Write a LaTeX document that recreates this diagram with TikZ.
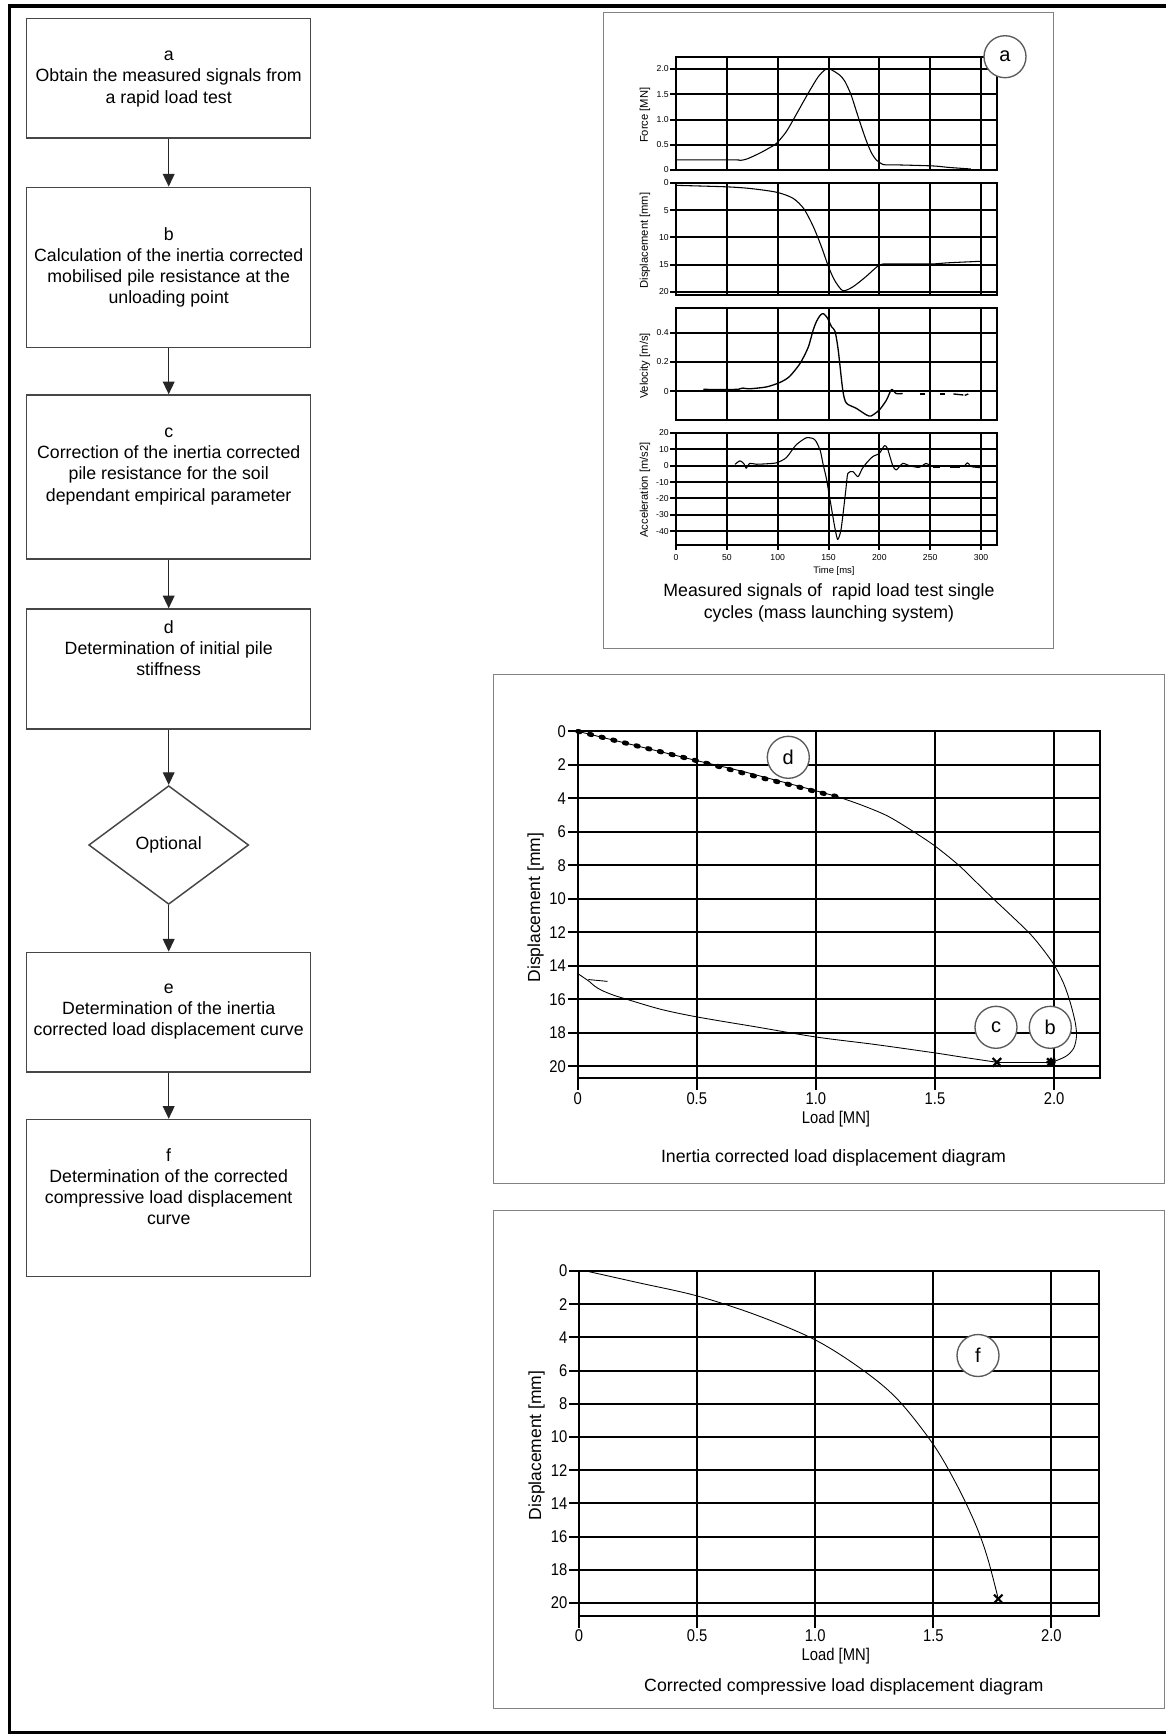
\documentclass[tikz,border=0pt]{standalone}
\usepackage{fontspec}
\setmainfont{Liberation Sans}
\usetikzlibrary{arrows.meta,shapes.geometric}
\definecolor{boxline}{RGB}{70,70,70}
\definecolor{panelline}{RGB}{130,130,130}
\definecolor{circline}{RGB}{90,90,90}
\newcommand{\cnd}[1]{\scalebox{0.87}[1]{#1}}
\begin{document}
\begin{tikzpicture}[x=0.75pt,y=-0.75pt,
  flowbox/.style={draw=boxline, line width=1.1pt, rectangle, minimum width=213pt, inner sep=0pt},
  flowtext/.style={align=center, font=\fontsize{13.3}{15.8}\selectfont, inner sep=0pt},
  decisionbox/.style={draw=boxline, line width=1.1pt, diamond, minimum width=120pt, minimum height=89pt, inner sep=0pt, aspect=1.35, font=\fontsize{13.3}{15.8}\selectfont},
  flowarrow/.style={-{Triangle[width=8.8pt,length=9.5pt]}, line width=1pt, draw=black!85},
  outerframe/.style={line width=2.3pt, black},
  panelframe/.style={draw=panelline, line width=0.9pt},
  grida/.style={line width=1.3pt, black},
  gridb/.style={line width=1.5pt, black},
  curvea/.style={line width=0.8pt, black, line join=round},
  curveb/.style={line width=0.65pt, black, line join=round},
  ticka/.style={font=\fontsize{6.5}{7}\selectfont, inner sep=0pt},
  titlea/.style={font=\fontsize{8.4}{9}\selectfont, inner sep=0pt},
  titlet/.style={font=\fontsize{7.1}{8}\selectfont, inner sep=0pt},
  tickb/.style={font=\fontsize{12.75}{14}\selectfont, inner sep=0pt},
  titleb/.style={font=\fontsize{13.1}{15}\selectfont, inner sep=0pt},
  capt/.style={align=center, font=\fontsize{13.3}{16.7}\selectfont, inner sep=0pt},
  circlab/.style={circle, draw=circline, fill=white, line width=1pt, minimum size=31.5pt, inner sep=0pt, font=\fontsize{15}{17}\selectfont},
  xmark/.style={line width=1.7pt, black}
]
\useasboundingbox (0,0) rectangle (1166,1736);
\fill[white] (0,0) rectangle (1166,1736);
\begin{scope}
\clip (0,0) rectangle (1166,1736);
\draw[outerframe] (9.5,6) rectangle (1190,1732.5);
\end{scope}

% ---------------- flowchart ----------------
\node[flowbox, minimum height=89.8pt] (boxa) at (168.7,78.2) {};
\node[flowtext] (texta) at (168.7,79) {a\\Obtain the measured signals from\\a rapid load test};
\node[flowbox, minimum height=120pt] (boxb) at (168.7,267.3) {};
\node[flowtext] (textb) at (168.7,267.3) {b\\Calculation of the inertia corrected\\mobilised pile resistance at the\\unloading point};
\node[flowbox, minimum height=123pt] (boxc) at (168.7,477) {};
\node[flowtext] (textc) at (168.7,466.5) {c\\Correction of the inertia corrected\\pile resistance for the soil\\dependant empirical parameter};
\node[flowbox, minimum height=90pt] (boxd) at (168.7,669) {};
\node[flowtext] (textd) at (168.7,648) {d\\Determination of initial pile\\stiffness};
\node[decisionbox] (opt) at (168.7,845) {Optional};
\node[flowbox, minimum height=89.8pt] (boxe) at (168.7,1012.2) {};
\node[flowtext] (texte) at (168.7,1011.5) {e\\Determination of the inertia\\corrected load displacement curve};
\node[flowbox, minimum height=117.9pt] (boxf) at (168.7,1198.1) {};
\node[flowtext] (textf) at (168.7,1186.5) {f\\Determination of the corrected\\compressive load displacement\\curve};

\draw[flowarrow] (boxa) -- (boxb);
\draw[flowarrow] (boxb) -- (boxc);
\draw[flowarrow] (boxc) -- (boxd);
\draw[flowarrow] (boxd) -- (opt);
\draw[flowarrow] (opt) -- (boxe);
\draw[flowarrow] (boxe) -- (boxf);

% ---------------- panel 1: measured signals ----------------
\draw[panelframe] (603.5,12.5) rectangle (1053.5,648.5);

% Force chart
\draw[grida] (676,57) rectangle (997,170);
\foreach \t in {50,100,150,200,250,300} {\draw[grida] ({round(676+1.0167*\t)},57) -- ({round(676+1.0167*\t)},170);}
\foreach \v in {0.5,1,1.5,2} {\draw[grida] (676,{round(170-50.5*\v)}) -- (997,{round(170-50.5*\v)});}
\foreach \v/\l [count=\i] in {0/0,0.5/0.5,1/1.0,1.5/1.5,2/2.0} {
  \draw[grida] (670,{round(170-50.5*\v)}) -- (676,{round(170-50.5*\v)});
  \node[ticka, anchor=east] (fy\i) at (669,{170-50.5*\v}) {\l};}
\node[titlea, rotate=90] (tforce) at (645,115.3) {Force [MN]};

% Displacement chart
\draw[grida] (676,183) rectangle (997,295);
\foreach \t in {50,100,150,200,250,300} {\draw[grida] ({round(676+1.0167*\t)},183) -- ({round(676+1.0167*\t)},295);}
\foreach \d in {5,10,15,20} {\draw[grida] (676,{round(183+5.435*\d)}) -- (997,{round(183+5.435*\d)});}
\foreach \d [count=\i] in {0,5,10,15,20} {
  \draw[grida] (670,{round(183+5.435*\d)}) -- (676,{round(183+5.435*\d)});
  \node[ticka, anchor=east] (dy\i) at (669,{183+5.435*\d}) {\d};}
\node[titlea, rotate=90] (tdisp) at (645,240.5) {Displacement [mm]};

% Velocity chart
\draw[grida] (676,308) rectangle (997,420);
\foreach \t in {50,100,150,200,250,300} {\draw[grida] ({round(676+1.0167*\t)},308) -- ({round(676+1.0167*\t)},420);}
\foreach \v/\l [count=\i] in {0.4/0.4,0.2/0.2,0/0} {
  \draw[grida] (670,{round(391.3-146.5*\v)}) -- (997,{round(391.3-146.5*\v)});
  \node[ticka, anchor=east] (vy\i) at (669,{391.3-146.5*\v}) {\l};}
\node[titlea, rotate=90] (tvel) at (645,366) {Velocity [m/s]};

% Acceleration chart
\draw[grida] (676,433) rectangle (997,545);
\foreach \t in {50,100,150,200,250,300} {\draw[grida] ({round(676+1.0167*\t)},433) -- ({round(676+1.0167*\t)},545);}
\foreach \a [count=\i] in {20,10,0,-10,-20,-30,-40} {
  \draw[grida] (670,{round(465.7-1.64*(\a))}) -- (997,{round(465.7-1.64*(\a))});
  \node[ticka, anchor=east] (ay\i) at (669,{465.7-1.64*(\a)}) {\a};}
\node[titlea, rotate=90] (tacc) at (645,490) {Acceleration [m/s2]};
\foreach \t [count=\i] in {0,50,100,150,200,250,300} {
  \draw[grida] ({round(676+1.0167*\t)},545) -- ({round(676+1.0167*\t)},550);
  \node[ticka] (tx\i) at ({676+1.0167*\t},558) {\t};}
\node[titlet] (ttime) at (834,571) {Time [ms]};

% Force curve
\begin{scope}[shift={(676,170)}, x=0.7625pt, y=37.875pt]
\draw[curvea] plot[smooth, tension=0.45] coordinates {(0,0.2) (58,0.2) (63,0.19) (70,0.22) (82,0.33) (92,0.44) (99,0.53) (108.5,0.76) (118,1.09) (130,1.52) (140,1.85) (147,1.99) (151,2.0) (155,1.96) (161,1.88) (166,1.76) (172,1.5) (177,1.19) (182,0.88) (187,0.59) (192,0.35) (197,0.2) (203.6,0.11) (210,0.1) (220,0.1) (253,0.08) (269,0.05) (290,0.02)};
\end{scope}
% Displacement curve
\begin{scope}[shift={(676,183)}, x=0.7625pt, y=-4.07625pt]
\draw[curvea] plot[smooth, tension=0.45] coordinates {(0,0.43) (49,0.7) (72.5,1.0) (99,1.7) (115,2.8) (125.6,4.7) (135,8.0) (143,11.7) (150,15.4) (156,17.9) (164,19.8) (174,19.1) (187,17.2) (200,15.1) (210,14.9) (253,14.9) (266,14.7) (300,14.4)};
\end{scope}
% Velocity curve
\begin{scope}[shift={(676,391.3)}, x=0.7625pt, y=109.875pt]
\draw[curvea, line width=1pt] plot[smooth, tension=0.45] coordinates {(27,0.013) (59,0.013) (63,0.018) (66,0.022) (72,0.017) (89,0.03) (102,0.06) (111.5,0.1) (122,0.19) (130,0.3) (135,0.42) (138.4,0.48) (142,0.52) (145,0.53) (149,0.5) (153,0.44) (156.4,0.41) (159.6,0.28) (164,0.01) (167.5,-0.08) (177.3,-0.116) (187,-0.16) (192,-0.168) (200,-0.127) (207,-0.06) (212,0.012) (216.5,-0.015) (223,-0.015)};
\draw[curvea, line width=1pt] (240,-0.018) -- (245,-0.018);
\draw[curvea, line width=1pt] (259.7,-0.018) -- (264.6,-0.018);
\draw[curvea, line width=1pt] (272.8,-0.018) -- (282.6,-0.025);
\draw[curvea, line width=1pt] (284,-0.028) -- (287.5,-0.018);
\end{scope}
% Acceleration curve
\begin{scope}[shift={(676,465.7)}, x=0.7625pt, y=1.23pt]
\draw[curvea] plot[smooth, tension=0.4] coordinates {(58,0.8) (63,3) (67,1) (69,-1.6) (72.5,1.4) (79,0.9) (90,1.2) (99,1.8) (108.5,4.9) (118,12.6) (128,17) (135,16.5) (138,14.6) (142,9) (144.5,1.4) (148,-8) (151,-18.9) (156,-37) (159,-45) (162,-40) (164,-31) (167,-15) (169,-4.7) (174,-3.6) (179,-6.7) (183,-2) (187,1.4) (193.4,5.5) (200,7.5) (205,12.2) (208,10.5) (213,0.4) (216.5,-2.6) (223,1.4) (229.5,0) (239,-1) (246,1.4) (250,0)};
\draw[curvea, line width=1pt] (253,-1.1) -- (259.7,-1.1);
\draw[curvea, line width=1pt] (269.5,-1.1) -- (279.3,-1.1);
\draw[curvea] plot[smooth] coordinates {(284,0) (286.5,1.8) (289,0.3)};
\draw[curvea, line width=1pt] (290.8,-0.6) -- (300,-1.2);
\end{scope}

\node[circlab] (cira) at (1005,56.7) {a};
\node[capt] (cap1) at (829,602.8) {Measured signals of \ rapid load test single\\cycles (mass launching system)};

% ---------------- panel 2: inertia corrected ----------------
\draw[panelframe] (493.5,674.5) rectangle (1164.5,1183.5);
\draw[gridb] (578,731) rectangle (1100,1078);
\foreach \L in {0.5,1,1.5,2} {\draw[gridb] ({round(577.7+238.2*\L)},731) -- ({round(577.7+238.2*\L)},1090);}
\draw[gridb] (578,1078) -- (578,1090);
\foreach \d in {2,4,...,20} {\draw[gridb] (568,{round(731.3+16.75*\d)}) -- (1100,{round(731.3+16.75*\d)});}
\draw[gridb] (568,731) -- (578,731);
\foreach \d [count=\i] in {0,2,...,20} {\node[tickb, anchor=east] (py\i) at (566,{731.3+16.75*\d}) {\cnd{\d}};}
\foreach \L/\l [count=\i] in {0/0,0.5/0.5,1/1.0,1.5/1.5,2/2.0} {\node[tickb] (px\i) at ({577.7+238.2*\L},1099) {\cnd{\l}};}
\node[titleb, rotate=90] (pytitle) at (535.7,907.7) {Displacement [mm]};
\node[tickb] (pxtitle) at (836,1119) {\cnd{Load [MN]}};
\node[capt] (cap2) at (833.5,1158) {Inertia corrected load displacement diagram};

\begin{scope}[shift={(577.7,731.3)}, x=178.65pt, y=-12.5625pt]
\draw[curveb] plot[smooth, tension=0.5] coordinates {(0,0) (0.1,0.35) (0.2,0.7) (0.3,1.05) (0.4,1.4) (0.5,1.75) (0.6,2.08) (0.7,2.42) (0.8,2.8) (0.9,3.17) (1.0,3.55) (1.1,3.95) (1.2,4.45) (1.3,5.05) (1.4,5.9) (1.5,6.85) (1.6,8.0) (1.68,9.1) (1.745,10.0) (1.82,11.0) (1.9,12.1) (1.955,13.05) (2.0,13.95) (2.04,15.05) (2.068,16.2) (2.089,17.4) (2.094,18.2) (2.083,18.9) (2.055,19.35) (2.02,19.6) (1.987,19.76)};
\draw[line width=3.6pt, dash pattern=on 1.8pt off 7.2pt, line cap=round] plot[smooth] coordinates {(0,0) (0.2,0.7) (0.5,1.76) (0.75,2.7) (0.9,3.22) (1.0,3.6) (1.12,4.0)};
\draw[curveb] (1.76,19.76) -- (1.987,19.76);
\draw[curveb] plot[smooth, tension=0.5] coordinates {(1.76,19.76) (1.6,19.42) (1.5,19.2) (1.25,18.7) (1.0,18.25) (0.75,17.65) (0.5,17.05) (0.35,16.6) (0.22,16.06) (0.15,15.75) (0.1,15.46) (0.07,15.2) (0.05,14.95) (0.03,14.75) (0,14.46)};
\draw[curveb] (0.045,14.82) -- (0.125,14.93);
\draw[xmark] (1.76,19.76) +(-3.2pt,-3.2pt) -- +(3.2pt,3.2pt) +(-3.2pt,3.2pt) -- +(3.2pt,-3.2pt);
\draw[xmark] (1.987,19.76) +(-3pt,-3pt) -- +(3pt,3pt) +(-3pt,3pt) -- +(3pt,-3pt) +(-3.5pt,0) -- +(3.5pt,0) +(0,-3.5pt) -- +(0,3.5pt);
\end{scope}
\node[circlab] (cird) at (788.3,757.3) {d};
\node[circlab] (circ) at (996,1027.3) {c};
\node[circlab] (cirb) at (1050.3,1027.3) {b};

% ---------------- panel 3: corrected compressive ----------------
\draw[panelframe] (493.5,1210.5) rectangle (1164.5,1708.5);
\draw[gridb] (579,1271) rectangle (1099,1616);
\foreach \L in {0.5,1,1.5,2} {\draw[gridb] ({round(579+236.2*\L)},1271) -- ({round(579+236.2*\L)},1628);}
\draw[gridb] (579,1616) -- (579,1628);
\foreach \d in {2,4,...,20} {\draw[gridb] (569,{round(1271+16.6*\d)}) -- (1099,{round(1271+16.6*\d)});}
\draw[gridb] (569,1271) -- (579,1271);
\foreach \d [count=\i] in {0,2,...,20} {\node[tickb, anchor=east] (qy\i) at (567.5,{1271+16.6*\d}) {\cnd{\d}};}
\foreach \L/\l [count=\i] in {0/0,0.5/0.5,1/1.0,1.5/1.5,2/2.0} {\node[tickb] (qx\i) at ({579+236.2*\L},1636) {\cnd{\l}};}
\node[titleb, rotate=90] (qytitle) at (536.7,1445.3) {Displacement [mm]};
\node[tickb] (qxtitle) at (835.8,1655.7) {\cnd{Load [MN]}};
\node[capt] (cap3) at (843.8,1686.7) {Corrected compressive load displacement diagram};

\begin{scope}[shift={(579,1271)}, x=177.15pt, y=-12.45pt]
\draw[curveb] plot[smooth, tension=0.55] coordinates {(0.03,0) (0.25,0.7) (0.5,1.5) (0.75,2.65) (1.0,4.15) (1.2,5.95) (1.35,7.75) (1.5,10.45) (1.6,12.9) (1.68,15.3) (1.73,17.3) (1.775,19.75)};
\draw[xmark] (1.775,19.75) +(-3.2pt,-3.2pt) -- +(3.2pt,3.2pt) +(-3.2pt,3.2pt) -- +(3.2pt,-3.2pt);
\end{scope}
\node[circlab] (cirf) at (978,1355.5) {f};
\end{tikzpicture}
\end{document}
